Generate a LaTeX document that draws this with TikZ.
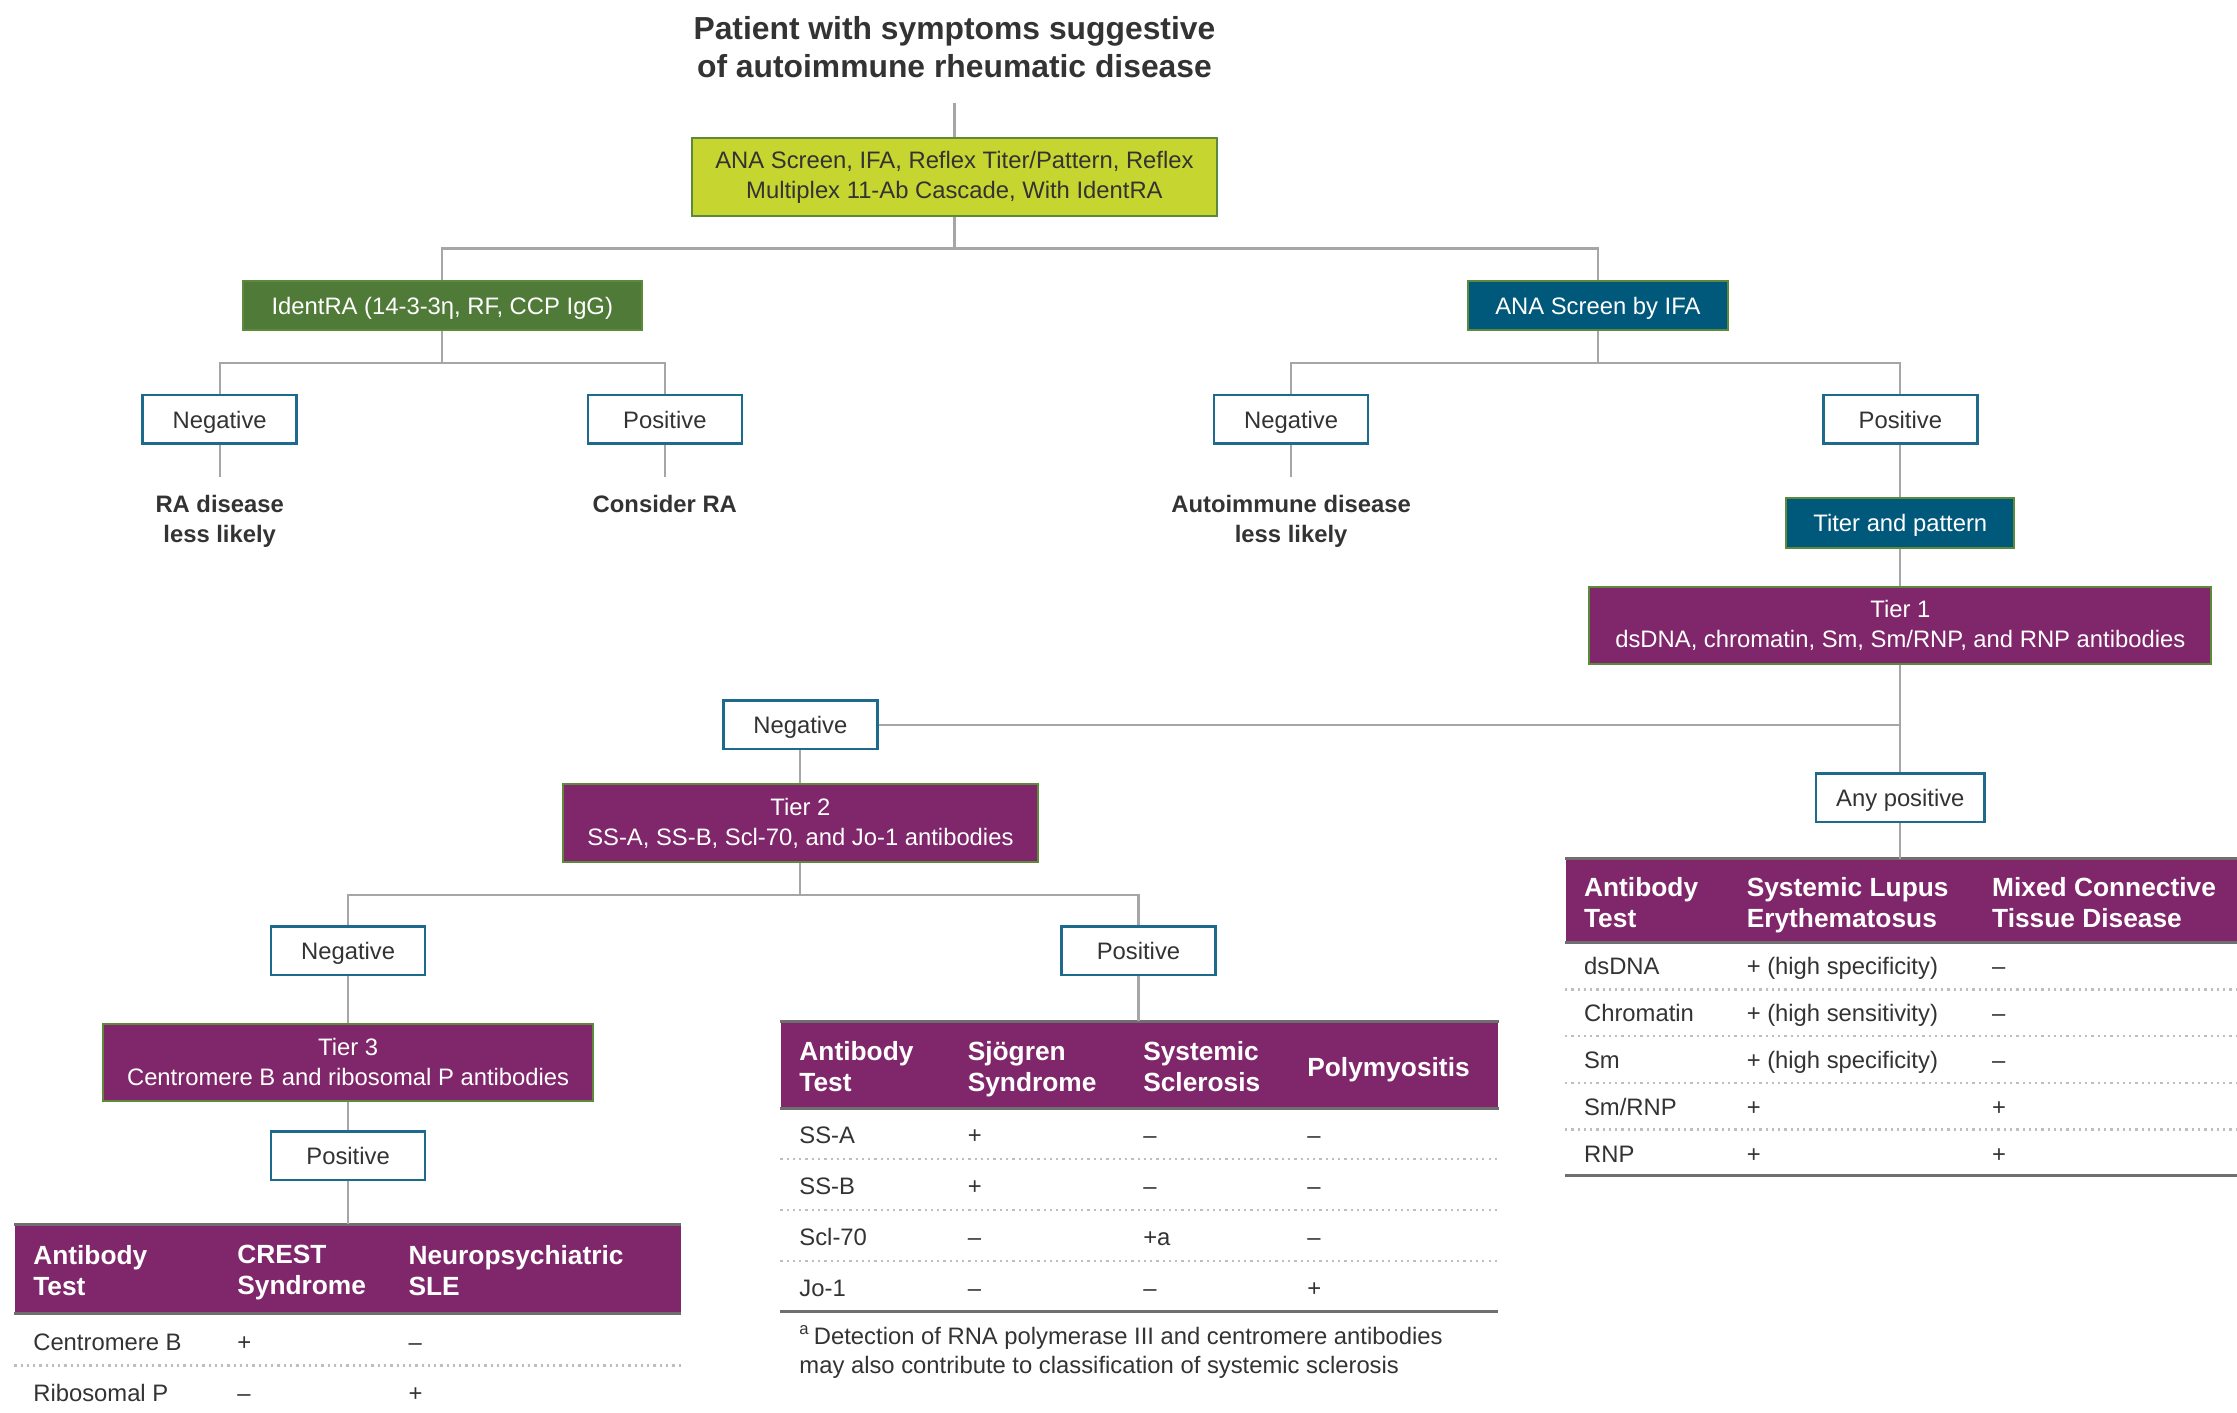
\documentclass[tikz,border=0pt]{standalone}
\usepackage{fontspec}
\setmainfont{Liberation Sans}
\usepackage{tikz}
\usetikzlibrary{calc,positioning}

\definecolor{txtgray}{HTML}{333333}
\definecolor{conngray}{HTML}{A6A6A6}
\definecolor{boxblue}{HTML}{1D6A8C}
\definecolor{limefill}{HTML}{C6D530}
\definecolor{leafgreen}{HTML}{5C8A3A}
\definecolor{identgreen}{HTML}{507A38}
\definecolor{anateal}{HTML}{00587B}
\definecolor{tierplum}{HTML}{80266A}
\definecolor{rulegray}{HTML}{6F6F6F}
\definecolor{dotgray}{HTML}{BEBEBE}

\begin{document}
\begin{tikzpicture}[
                x=0.02cm, y=-0.02cm,
                every node/.append style={inner sep=0pt, text=txtgray, font=\fontsize{9.5}{12}\selectfont},
                oneline/.style={text height=0.9em, text depth=0.18em},
                conn/.style={draw=conngray, line width=0.9pt},
                result/.style={oneline, draw=boxblue, fill=white, line width=1pt, minimum width=2.16cm, minimum height=0.68cm},
                filled/.style={draw=leafgreen, line width=0.8pt, text=white, align=center},
                verdict/.style={font=\bfseries\fontsize{9.5}{12}\selectfont, align=center, anchor=north, inner ysep=0.26cm},
                hdr/.style={fill=tierplum, anchor=north west},
                hdrtext/.style={font=\bfseries\fontsize{10.5}{12.5}\selectfont, text=white, align=left, anchor=north west},
                cell/.style={oneline, anchor=west},
                rule/.style={draw=rulegray, line width=1.2pt},
                dots/.style={draw=dotgray, line width=1pt, dash pattern=on 0.9pt off 1.6pt}
            ]
                \useasboundingbox (0,0) rectangle (1568,990);

                \node (title) [font=\bfseries\fontsize{12.7}{15.4}\selectfont, align=center, anchor=south, inner ysep=0.34cm] at (669,72) {Patient with symptoms suggestive\\of autoimmune rheumatic disease};
                \node (panel) [filled, fill=limefill, text=txtgray, minimum width=7.36cm, minimum height=1.1cm] at (669,124) {ANA Screen, IFA, Reflex Titer/Pattern, Reflex\\Multiplex 11-Ab Cascade, With IdentRA};
                \node (identra) [filled, oneline, fill=identgreen, minimum width=5.6cm, minimum height=0.68cm] at (310,214) {IdentRA (14-3-3η, RF, CCP IgG)};
                \node (anaifa) [filled, oneline, fill=anateal, minimum width=3.64cm, minimum height=0.68cm] at (1120,214) {ANA Screen by IFA};

                \node (raneg)  [result] at (154,294)  {Negative};
                \node (rapos)  [result] at (466,294)  {Positive};
                \node (ananeg) [result] at (905,294)  {Negative};
                \node (anapos) [result] at (1332,294) {Positive};
                \node (raless) [verdict] at (154,334) {RA disease\\less likely};
                \node (racons) [verdict] at (466,334) {Consider RA};
                \node (ailess) [verdict] at (905,334) {Autoimmune disease\\less likely};

                \node (titer) [filled, oneline, fill=anateal, minimum width=3.2cm, minimum height=0.7cm] at (1332,366.5) {Titer and pattern};
                \node (tier1) [filled, fill=tierplum, minimum width=8.72cm, minimum height=1.08cm] at (1332,438.5) {Tier 1\\dsDNA, chromatin, Sm, Sm/RNP, and RNP antibodies};
                \node (t1neg) [result] at (561,508) {Negative};
                \node (t1any) [result, minimum width=2.36cm] at (1332,559) {Any positive};
                \node (tier2) [filled, fill=tierplum, minimum width=6.66cm, minimum height=1.1cm] at (561,577) {Tier 2\\SS-A, SS-B, Scl-70, and Jo-1 antibodies};
                \node (t2neg) [result] at (244,666.5) {Negative};
                \node (t2pos) [result] at (798,666.5) {Positive};
                \node (tier3) [filled, fill=tierplum, minimum width=6.86cm, minimum height=1.08cm] at (244,744.5) {Tier 3\\Centromere B and ribosomal P antibodies};
                \node (t3pos) [result] at (244,810) {Positive};

                % right table
                \node (tabR) [hdr, minimum width=9.42cm, minimum height=1.16cm] at (1097,602) {};
                \draw[rule] (tabR.north west) -- (tabR.north east);
                \draw[rule] (tabR.south west) -- (tabR.south east);
                \node (tabR-h1) [hdrtext] at (1110,614.5) {Antibody\\Test};
                \node (tabR-h2) [hdrtext] at (1224,614.5) {Systemic Lupus\\Erythematosus};
                \node (tabR-h3) [hdrtext] at (1396,614.5) {Mixed Connective\\Tissue Disease};
                \foreach \ab/\sle/\mctd [count=\i] in {dsDNA/{+ (high specificity)}/–, Chromatin/{+ (high sensitivity)}/–, Sm/{+ (high specificity)}/–, {Sm/RNP}/+/+, RNP/+/+}{
                    \pgfmathsetmacro{\yrow}{677+32.8*(\i-1)}
                    \node (tabR-\i-a) [cell] at (1110,\yrow) {\ab};
                    \node (tabR-\i-b) [cell] at (1224,\yrow) {\sle};
                    \node (tabR-\i-c) [cell] at (1396,\yrow) {\mctd};
                }
                \foreach \yd in {693.4,726.2,759,791.8} \draw[dots] (1097,\yd) -- (1568,\yd);
                \draw[rule] (1097,824) -- (1568,824);

                % middle table
                \node (tabM) [hdr, minimum width=10.06cm, minimum height=1.2cm] at (547,716) {};
                \draw[rule] (tabM.north west) -- (tabM.north east);
                \draw[rule] (tabM.south west) -- (tabM.south east);
                \node (tabM-h1) [hdrtext] at (560,729.5) {Antibody\\Test};
                \node (tabM-h2) [hdrtext] at (678,729.5) {Sjögren\\Syndrome};
                \node (tabM-h3) [hdrtext] at (801,729.5) {Systemic\\Sclerosis};
                \node (tabM-h4) [hdrtext] at (916,740.5) {Polymyositis};
                \foreach \ab/\sjo/\ssc/\pm [count=\i] in {SS-A/+/–/–, SS-B/+/–/–, Scl-70/–/+a/–, Jo-1/–/–/+}{
                    \pgfmathsetmacro{\yrow}{795+35.7*(\i-1)}
                    \node (tabM-\i-a) [cell] at (560,\yrow) {\ab};
                    \node (tabM-\i-b) [cell] at (678,\yrow) {\sjo};
                    \node (tabM-\i-c) [cell] at (801,\yrow) {\ssc};
                    \node (tabM-\i-d) [cell] at (916,\yrow) {\pm};
                }
                \foreach \yd in {812.5,848,884} \draw[dots] (547,\yd) -- (1050,\yd);
                \draw[rule] (547,919) -- (1050,919);
                \node (fnote) [align=left, anchor=north west, font=\fontsize{9.5}{11.4}\selectfont] at (560,929) {\textsuperscript{a}\,Detection of RNA polymerase III and centromere antibodies\\may also contribute to classification of systemic sclerosis};

                % left table
                \node (tabL) [hdr, minimum width=9.34cm, minimum height=1.24cm] at (10,858) {};
                \draw[rule] (tabL.north west) -- (tabL.north east);
                \draw[rule] (tabL.south west) -- (tabL.south east);
                \node (tabL-h1) [hdrtext] at (23,872.5) {Antibody\\Test};
                \node (tabL-h2) [hdrtext] at (166,872.5) {CREST\\Syndrome};
                \node (tabL-h3) [hdrtext] at (286,872.5) {Neuropsychiatric\\SLE};
                \foreach \ab/\crest/\npsle [count=\i] in {Centromere B/+/–, Ribosomal P/–/+}{
                    \pgfmathsetmacro{\yrow}{940+36*(\i-1)}
                    \node (tabL-\i-a) [cell] at (23,\yrow) {\ab};
                    \node (tabL-\i-b) [cell] at (166,\yrow) {\crest};
                    \node (tabL-\i-c) [cell] at (286,\yrow) {\npsle};
                }
                \draw[dots] (10,957) -- (477,957);

                \draw[conn] (title) -- (panel);
                \draw[conn] (panel.south) -- ++(0,22) -| (identra);
                \draw[conn] (panel.south) -- ++(0,22) -| (anaifa);
                \draw[conn] (identra.south) -- ++(0,23) -| (raneg);
                \draw[conn] (identra.south) -- ++(0,23) -| (rapos);
                \draw[conn] (anaifa.south) -- ++(0,23) -| (ananeg);
                \draw[conn] (anaifa.south) -- ++(0,23) -| (anapos);
                \draw[conn] (raneg) -- (raless);
                \draw[conn] (rapos) -- (racons);
                \draw[conn] (ananeg) -- (ailess);
                \draw[conn] (anapos) -- (titer);
                \draw[conn] (titer) -- (tier1);
                \draw[conn] (tier1) -- (t1any);
                \draw[conn] (t1neg) -- (t1neg -| tier1);
                \draw[conn] (t1neg) -- (tier2);
                \draw[conn] (tier2.south) -- ++(0,22) -| (t2neg);
                \draw[conn] (tier2.south) -- ++(0,22) -| (t2pos);
                \draw[conn] (t2neg) -- (tier3);
                \draw[conn] (tier3) -- (t3pos);
                \draw[conn] (t3pos) -- (t3pos |- tabL.north);
                \draw[conn] (t2pos) -- (t2pos |- tabM.north);
                \draw[conn] (t1any) -- (t1any |- tabR.north);
            \end{tikzpicture}
\end{document}
